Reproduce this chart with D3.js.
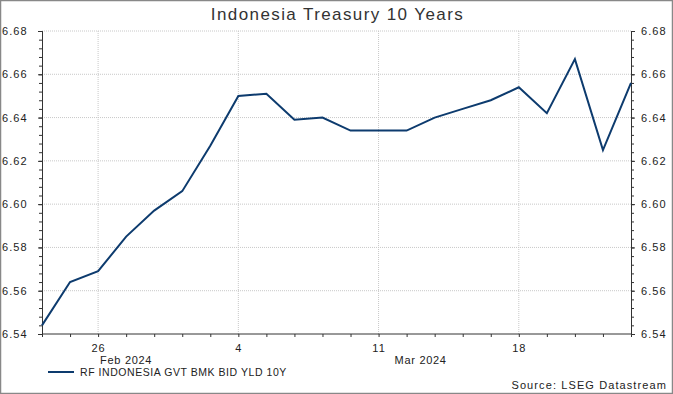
<!DOCTYPE html>
<html>
<head>
<meta charset="utf-8">
<script src="https://cdn.jsdelivr.net/npm/d3@7"></script>
<style>
  body { margin: 0; background: white; }
  svg { display: block; font-family: "Liberation Sans", Arial, sans-serif; }
</style>
</head>
<body>
<svg id="mainSvg" width="673" height="394"></svg>
<script>
// trading days, Feb 22 - Mar 22 2024
var dates = ["2024-02-22", "2024-02-23", "2024-02-26", "2024-02-27", "2024-02-28", "2024-02-29",
             "2024-03-01", "2024-03-04", "2024-03-05", "2024-03-06", "2024-03-07", "2024-03-08",
             "2024-03-11", "2024-03-12", "2024-03-13", "2024-03-14", "2024-03-15", "2024-03-18",
             "2024-03-19", "2024-03-20", "2024-03-21", "2024-03-22"];
var yields = [6.544, 6.564, 6.569, 6.585, 6.597, 6.606, 6.627, 6.650, 6.651, 6.639, 6.640,
              6.634, 6.634, 6.634, 6.640, 6.644, 6.648, 6.654, 6.642, 6.667, 6.625, 6.656];
var yTicks = [6.54, 6.56, 6.58, 6.60, 6.62, 6.64, 6.66, 6.68];
var dayLabels = {"2024-02-26": "26", "2024-03-04": "4", "2024-03-11": "11", "2024-03-18": "18"};
// month label, centred over the span it covers
var monthLabels = [["Feb 2024", "2024-02-22", "2024-03-01"], ["Mar 2024", "2024-03-01", "2024-03-22"]];

var lineColor = "#0d3b6e";
var textColor = "#222";
var gridColor = "#c8c8c8";

window.addEventListener("load", drawChart);

function drawChart()
{
    const svg = d3.select("#mainSvg");
    const width = +svg.attr("width");
    const height = +svg.attr("height");
    const margin = {top: 31, bottom: 60, left: 42, right: 42};

    // frame
    svg.append("rect").attr("x", 0.5).attr("y", 0.5)
        .attr("width", width - 1).attr("height", height - 1)
        .attr("fill", "white").attr("stroke", "#888").attr("stroke-width", 1.5);

    const xScale = d3.scalePoint().domain(dates).range([margin.left, width - margin.right]);
    const yScale = d3.scaleLinear().domain([6.54, 6.68]).range([height - margin.bottom, margin.top]);
    const x0 = margin.left, x1 = width - margin.right;
    const y0 = height - margin.bottom, y1 = margin.top;

    svg.append("text").text("Indonesia Treasury 10 Years")
        .attr("x", width / 2 + 1).attr("y", 20)
        .attr("text-anchor", "middle").attr("font-size", 17)
        .attr("letter-spacing", 1.4).attr("fill", "#333");

    // grid
    svg.append("g").selectAll("line").data(yTicks.slice(1)).join("line")
        .attr("x1", x0).attr("x2", x1)
        .attr("y1", d => yScale(d)).attr("y2", d => yScale(d))
        .attr("stroke", gridColor).attr("stroke-dasharray", "1,1");
    svg.append("g").selectAll("line").data(Object.keys(dayLabels)).join("line")
        .attr("x1", d => xScale(d)).attr("x2", d => xScale(d))
        .attr("y1", y1).attr("y2", y0)
        .attr("stroke", gridColor).attr("stroke-dasharray", "1,1");

    // y axes with minor ticks
    const minor = d3.range(0, 36).map(i => 6.54 + i * 0.004);
    const leftMinor = d3.axisLeft(yScale).tickValues(minor).tickSize(3).tickFormat("");
    const rightMinor = d3.axisRight(yScale).tickValues(minor).tickSize(3).tickFormat("");
    const leftAxis = d3.axisLeft(yScale).tickValues(yTicks).tickSize(4).tickFormat(d3.format(".2f"));
    const rightAxis = d3.axisRight(yScale).tickValues(yTicks).tickSize(4).tickFormat(d3.format(".2f"));
    svg.append("g").attr("transform", `translate(${x0},0)`).call(leftMinor);
    svg.append("g").attr("transform", `translate(${x1},0)`).call(rightMinor);
    const lg = svg.append("g").attr("transform", `translate(${x0},0)`).call(leftAxis);
    const rg = svg.append("g").attr("transform", `translate(${x1},0)`).call(rightAxis);
    [lg, rg].forEach(g => {
        g.selectAll("text").attr("font-size", 11).attr("fill", textColor)
            .attr("letter-spacing", 1.1)
            .attr("font-family", "Liberation Sans, Arial, sans-serif");
    });
    lg.selectAll("text").attr("text-anchor", "start").attr("x", -40);
    rg.selectAll("text").attr("x", 10);
    svg.selectAll(".domain").attr("stroke", "#333");
    svg.selectAll(".tick line").attr("stroke", "#333");

    // x axis
    const xAxis = d3.axisBottom(xScale).tickSize(3)
        .tickFormat(d => dayLabels[d] || "");
    const xg = svg.append("g").attr("transform", `translate(0,${y0})`).call(xAxis);
    xg.select(".domain").attr("d", `M${x0},0H${x1}`).attr("stroke", "#333");
    xg.selectAll(".tick line").attr("stroke", "#333");
    xg.selectAll("text").attr("font-size", 11).attr("fill", textColor).attr("dy", "1.1em")
        .attr("letter-spacing", 1)
        .attr("font-family", "Liberation Sans, Arial, sans-serif");

    svg.append("g").selectAll("text").data(monthLabels).join("text")
        .text(d => d[0])
        .attr("x", d => (xScale(d[1]) + xScale(d[2])) / 2)
        .attr("y", 364).attr("text-anchor", "middle")
        .attr("font-size", 11).attr("letter-spacing", 0.7).attr("fill", textColor);

    // line
    const line = d3.line().x((d, i) => xScale(dates[i])).y(d => yScale(d));
    svg.append("path").datum(yields)
        .attr("d", line).attr("fill", "none")
        .attr("stroke", lineColor).attr("stroke-width", 2)
        .attr("stroke-linejoin", "miter");

    // legend
    svg.append("line").attr("x1", 48).attr("x2", 74).attr("y1", 372).attr("y2", 372)
        .attr("stroke", lineColor).attr("stroke-width", 2);
    svg.append("text").text("RF INDONESIA GVT BMK BID YLD 10Y")
        .attr("x", 80).attr("y", 376).attr("font-size", 10.5)
        .attr("letter-spacing", 0.55).attr("fill", textColor);

    svg.append("text").text("Source: LSEG Datastream")
        .attr("x", 667).attr("y", 389).attr("text-anchor", "end")
        .attr("font-size", 11).attr("fill", textColor).attr("letter-spacing", 1.1);
}
</script>
</body>
</html>
